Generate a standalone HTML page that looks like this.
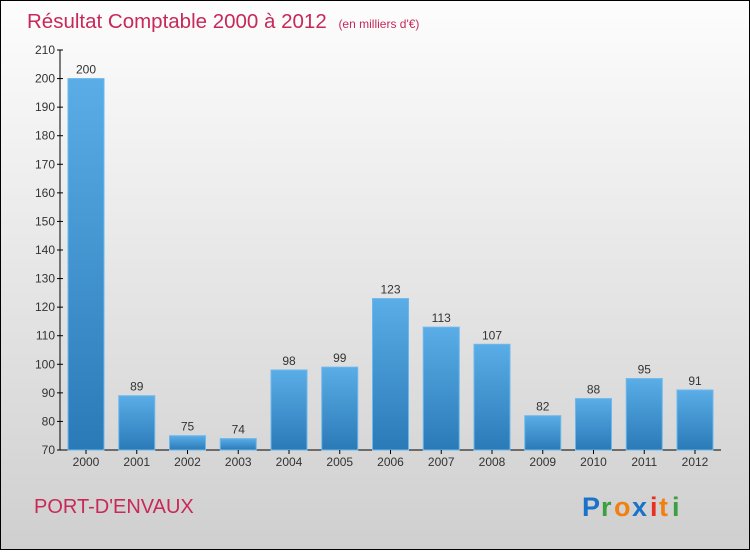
<!DOCTYPE html>
<html><head><meta charset="utf-8"><style>
body{margin:0;width:750px;height:550px;overflow:hidden;font-family:"Liberation Sans",sans-serif}
</style></head><body>
<svg width="750" height="550" xmlns="http://www.w3.org/2000/svg">
<defs>
<linearGradient id="bg" x1="0" y1="0" x2="0" y2="1"><stop offset="0" stop-color="#fdfdfd"/><stop offset="1" stop-color="#cfcfcf"/></linearGradient>
<linearGradient id="bar" x1="0" y1="0" x2="0" y2="1"><stop offset="0" stop-color="#5aade6"/><stop offset="1" stop-color="#2a7ab8"/></linearGradient>
</defs>
<rect x="0.5" y="0.5" width="749" height="549" fill="url(#bg)" stroke="#000"/>
<text x="27" y="28" font-size="20.5" fill="#c8285a">Résultat Comptable 2000 à 2012 <tspan font-size="12" dx="6">(en milliers d'€)</tspan></text>
<g id="plot"></g>
<text x="34" y="513" font-size="20" fill="#c8285a">PORT-D'ENVAUX</text>
<g font-size="27" font-weight="bold">
<text x="582" y="516" fill="#1a73c8">P</text><text x="601" y="516" fill="#3aa040">r</text><text x="614" y="516" fill="#f08010">o</text><text x="632" y="516" fill="#1a73c8">x</text><text x="650" y="516" fill="#e83020">i</text><text x="659" y="516" fill="#f08010">t</text><text x="672" y="516" fill="#3aa040">i</text>
</g>
</svg>
<script>
const years=["2000","2001","2002","2003","2004","2005","2006","2007","2008","2009","2010","2011","2012"];
const values=[200,89,75,74,98,99,123,113,107,82,88,95,91];
const yTicks=[70,80,90,100,110,120,130,140,150,160,170,180,190,200,210];
const NS="http://www.w3.org/2000/svg";
const g=document.getElementById('plot');
const y=v=>450-(v-70)*400/140;
const x=i=>86+i*50.75;
function mk(t,a){const e=document.createElementNS(NS,t);for(const k in a)e.setAttribute(k,a[k]);g.appendChild(e);return e;}
let ax=mk('line',{x1:60,y1:50,x2:60,y2:450,stroke:'#000'});


let bx=mk('line',{x1:60,y1:450,x2:721,y2:450,stroke:'#000'});


yTicks.forEach(v=>{
 const l=mk('line',{x1:57,x2:63,y1:y(v),y2:y(v),stroke:'#000'});
 
 
 const t=mk('text',{x:55,y:y(v)+4,'font-size':12,'text-anchor':'end',fill:'#333'});t.textContent=v;
 
 
});
values.forEach((v,i)=>{
 const r=mk('rect',{x:x(i)-18,y:y(v),width:36,height:450-y(v),fill:'url(#bar)',stroke:'#6cb8ec','stroke-width':1});
 
 
 const t=mk('text',{x:x(i),y:y(v)-5,'font-size':12,'text-anchor':'middle',fill:'#333'});t.textContent=v;
 
 
 const k=mk('line',{x1:x(i),x2:x(i),y1:450,y2:454,stroke:'#000'});
 
 
 const c=mk('text',{x:x(i),y:466,'font-size':12,'text-anchor':'middle',fill:'#333'});c.textContent=years[i];
 
 
});
</script>
</body></html>
